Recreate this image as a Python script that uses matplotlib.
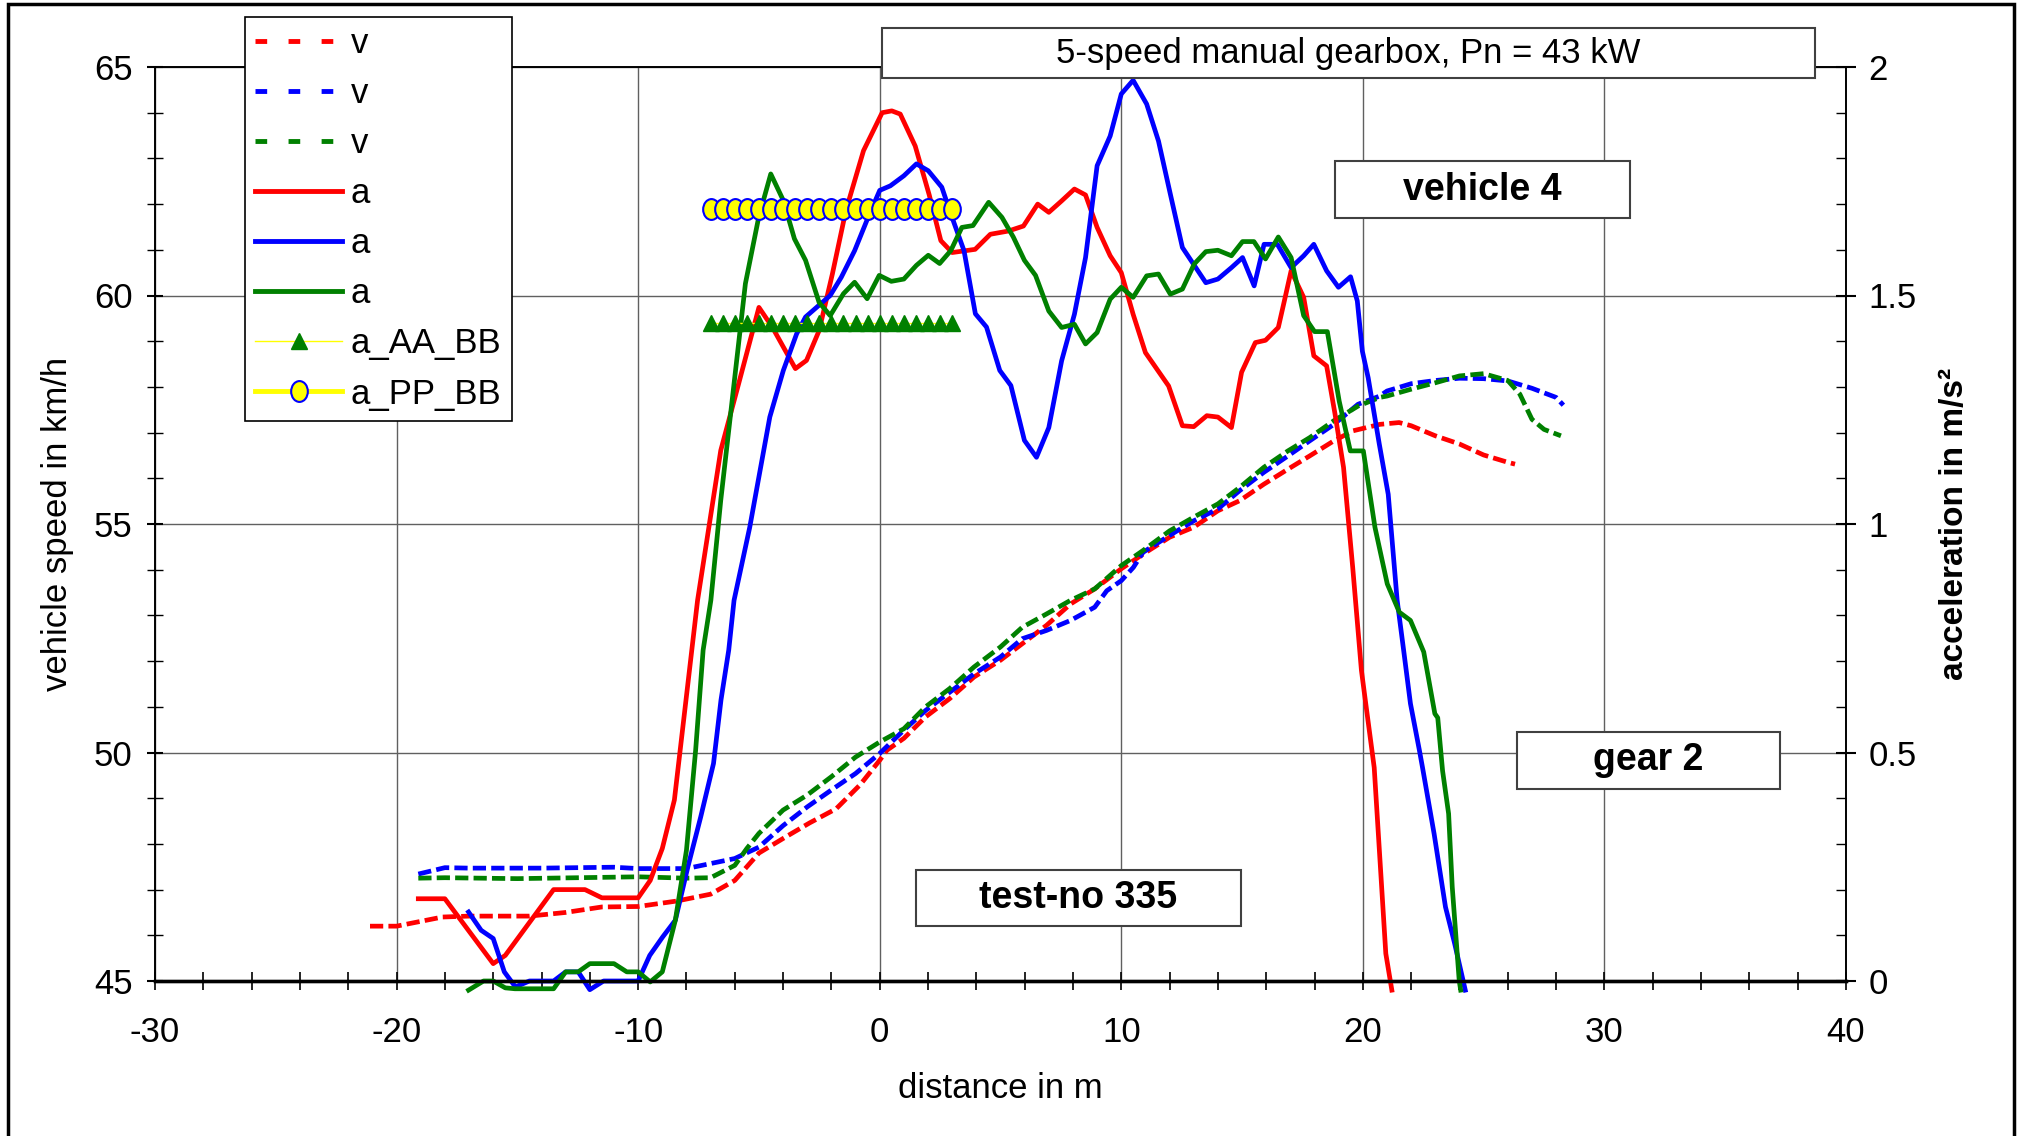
import matplotlib
matplotlib.use("Agg")
import matplotlib.pyplot as plt
from matplotlib.lines import Line2D
from matplotlib.patches import Rectangle
from matplotlib.path import Path
from matplotlib.transforms import Affine2D
from matplotlib.ticker import MultipleLocator, FuncFormatter

plt.rcParams['font.family'] = ['Liberation Sans', 'DejaVu Sans']
plt.rcParams['axes.unicode_minus'] = False

# vehicle speed (km/h) over distance (m)
x_v_red = [-21.1, -20, -18.1, -17, -14.5, -13, -11.5, -10, -8.4, -7, -6, -5, -3.9, -2.9, -1.8,
           -0.8, 0, 0.3, 1.0, 1.9, 2.9, 3.9, 5.0, 5.9, 6.9, 7.9, 8.9, 10, 10.9, 12, 13, 14, 14.9,
           15.9, 16.9, 17.8, 18.8, 19.6, 20.7, 21.5, 22, 23, 24, 25, 26, 26.3]
v_red = [46.2, 46.2, 46.4, 46.42, 46.42, 46.5, 46.62, 46.63, 46.75, 46.9, 47.2, 47.8, 48.15, 48.46,
         48.77, 49.3, 49.83, 50.05, 50.31, 50.78, 51.18, 51.65, 52.02, 52.38, 52.78, 53.25, 53.58,
         54.02, 54.34, 54.71, 54.93, 55.29, 55.51, 55.87, 56.2, 56.49, 56.82, 57.04, 57.18, 57.22,
         57.15, 56.93, 56.75, 56.51, 56.35, 56.31]

x_v_blue = [-19.1, -18, -17, -14, -11, -10, -8, -7, -6, -5, -4, -3, -2, -1, 0, 1.0, 1.9, 2.9, 3.9,
            5.0, 5.9, 6.9, 7.9, 8.9, 9.4, 10, 10.5, 10.9, 12, 13, 14, 14.9, 15.9, 16.9, 17.8, 18.8,
            19.8, 20.7, 21, 22, 23, 24, 25, 26, 27, 28, 28.3]
v_blue = [47.34, 47.48, 47.47, 47.47, 47.49, 47.46, 47.46, 47.57, 47.68, 47.93, 48.4, 48.81, 49.18,
          49.54, 49.98, 50.49, 50.92, 51.32, 51.72, 52.09, 52.49, 52.67, 52.89, 53.18, 53.54, 53.76,
          54.05, 54.38, 54.75, 55.07, 55.33, 55.73, 56.13, 56.49, 56.82, 57.18, 57.62, 57.8, 57.91,
          58.07, 58.14, 58.19, 58.18, 58.13, 57.97, 57.77, 57.6]

x_v_green = [-19.1, -18, -15, -10, -8, -7, -6, -5.5, -5, -4, -3, -2, -1, 0, 1.0, 1.9, 2.9, 3.9, 5.0,
             5.9, 6.9, 7.9, 8.9, 10, 10.9, 12, 13, 14, 14.9, 15.9, 16.9, 17.8, 18.8, 19.8, 20.7, 21,
             22, 23, 24, 25, 26, 26.5, 27, 27.5, 28.2]
v_green = [47.25, 47.26, 47.24, 47.28, 47.25, 47.26, 47.53, 47.9, 48.23, 48.74, 49.07, 49.47, 49.9,
           50.23, 50.52, 51.0, 51.4, 51.87, 52.31, 52.74, 53.03, 53.33, 53.58, 54.09, 54.42, 54.85,
           55.15, 55.44, 55.8, 56.24, 56.6, 56.89, 57.26, 57.58, 57.77, 57.8, 57.95, 58.09, 58.24,
           58.29, 58.14, 57.84, 57.29, 57.07, 56.93]

# acceleration (m/s²) over distance (m)
x_a_red = [-19.1, -18, -16, -15.5, -13.5, -12.2, -11.5, -10, -9.5, -9.0, -8.5, -7.54, -6.58, -5.84,
           -5.0, -4.45, -3.49, -3.03, -2.51, -1.96, -1.4, -0.67, 0.1, 0.5, 0.85, 1.47, 2.05, 2.53,
           3.0, 3.95, 4.58, 5.32, 5.95, 6.54, 7.0, 7.53, 8.06, 8.52, 9.0, 9.54, 10.0, 10.49, 11.0,
           11.96, 12.53, 13.0, 13.54, 14.0, 14.56, 14.98, 15.55, 15.97, 16.5, 16.75, 17.03, 17.55,
           17.97, 18.5, 18.85, 19.2, 19.58, 19.94, 20.1, 20.47, 20.95, 21.2]
a_red = [0.18, 0.18, 0.038, 0.056, 0.20, 0.20, 0.182, 0.182, 0.22, 0.29, 0.396, 0.833, 1.161, 1.307,
         1.474, 1.431, 1.34, 1.358, 1.423, 1.547, 1.686, 1.817, 1.90, 1.904, 1.897, 1.827, 1.72,
         1.62, 1.594, 1.601, 1.634, 1.641, 1.652, 1.70, 1.682, 1.707, 1.733, 1.72, 1.649, 1.587,
         1.55, 1.459, 1.375, 1.302, 1.215, 1.213, 1.237, 1.234, 1.211, 1.332, 1.397, 1.402, 1.43,
         1.488, 1.554, 1.496, 1.368, 1.346, 1.24, 1.124, 0.905, 0.68, 0.615, 0.467, 0.06, -0.02]

x_a_blue = [-17.02, -16.5, -16.0, -15.54, -15.08, -14.5, -13.5, -13.0, -12.48, -12.0, -11.43, -10.0,
            -9.52, -8.99, -8.46, -7.94, -7.41, -6.88, -6.57, -6.25, -6.03, -5.38, -4.55, -3.99,
            -3.44, -3.07, -2.05, -1.59, -1.04, -0.48, 0.0, 0.44, 1.0, 1.52, 2.01, 2.57, 2.94, 3.49,
            3.96, 4.42, 4.97, 5.43, 5.99, 6.49, 7.0, 7.53, 8.06, 8.52, 9.0, 9.54, 10.0, 10.49, 11.05,
            11.54, 12.03, 12.53, 13.5, 14.0, 14.56, 15.02, 15.5, 15.91, 16.46, 17.03, 17.55, 17.97,
            18.5, 18.99, 19.49, 19.77, 19.98, 20.22, 20.68, 21.05, 21.42, 21.69, 21.97, 22.34,
            22.47, 22.95, 23.42, 23.8, 24.24]
a_blue = [0.151, 0.111, 0.093, 0.02, -0.013, 0.0, 0.0, 0.02, 0.02, -0.019, 0.0, 0.0, 0.056, 0.096,
          0.133, 0.25, 0.359, 0.476, 0.615, 0.724, 0.833, 0.993, 1.234, 1.336, 1.416, 1.453, 1.50,
          1.54, 1.598, 1.671, 1.73, 1.74, 1.762, 1.788, 1.773, 1.737, 1.679, 1.598, 1.46, 1.431,
          1.336, 1.303, 1.183, 1.146, 1.211, 1.357, 1.459, 1.583, 1.784, 1.849, 1.941, 1.971, 1.919,
          1.838, 1.722, 1.605, 1.528, 1.536, 1.561, 1.583, 1.521, 1.612, 1.612, 1.561, 1.587, 1.612,
          1.554, 1.518, 1.541, 1.488, 1.378, 1.32, 1.175, 1.065, 0.833, 0.723, 0.607, 0.505, 0.467,
          0.322, 0.162, 0.082, -0.02]

x_a_green = [-17.02, -16.4, -16.0, -15.5, -15.1, -13.5, -13.0, -12.48, -12.0, -11.0, -10.47, -10.0,
             -9.5, -9.0, -8.46, -8.0, -7.62, -7.31, -6.99, -6.58, -6.03, -5.56, -5.01, -4.51, -3.99,
             -3.53, -3.07, -2.51, -2.05, -1.5, -1.04, -0.52, -0.02, 0.48, 1.0, 1.52, 2.01, 2.48,
             2.94, 3.4, 3.86, 4.51, 5.06, 5.53, 5.99, 6.45, 7.0, 7.53, 8.06, 8.52, 9.0, 9.54, 10.0,
             10.49, 11.05, 11.54, 12.03, 12.53, 13.02, 13.5, 14.0, 14.56, 15.02, 15.49, 15.97, 16.5,
             17.03, 17.55, 18.0, 18.53, 19.02, 19.48, 20.02, 20.5, 21.01, 21.51, 21.97, 22.52,
             22.98, 23.1, 23.3, 23.55, 23.7, 23.99, 24.05]
a_green = [-0.02, 0.0, 0.0, -0.015, -0.017, -0.017, 0.02, 0.02, 0.038, 0.038, 0.02, 0.02, -0.002,
           0.02, 0.133, 0.286, 0.505, 0.724, 0.833, 1.052, 1.307, 1.526, 1.671, 1.766, 1.708, 1.624,
           1.577, 1.485, 1.456, 1.504, 1.529, 1.493, 1.544, 1.531, 1.536, 1.566, 1.588, 1.57, 1.598,
           1.649, 1.653, 1.704, 1.671, 1.628, 1.577, 1.544, 1.466, 1.43, 1.437, 1.394, 1.419, 1.492,
           1.518, 1.496, 1.543, 1.547, 1.503, 1.514, 1.569, 1.596, 1.599, 1.587, 1.618, 1.618, 1.58,
           1.628, 1.583, 1.456, 1.421, 1.421, 1.269, 1.16, 1.16, 0.993, 0.869, 0.807, 0.789, 0.72,
           0.585, 0.576, 0.46, 0.366, 0.206, 0.0, -0.02]

# marker rows
x_marks = [-7.0, -6.5, -6.0, -5.5, -5.0, -4.5, -4.0, -3.5, -3.0, -2.5, -2.0, -1.5, -1.0, -0.5,
           0.0, 0.5, 1.0, 1.5, 2.0, 2.5, 3.0]
a_AA_BB = [1.44] * len(x_marks)
a_PP_BB = [1.69] * len(x_marks)

W, H = 2021, 1136
fig = plt.figure(figsize=(W / 100, H / 100), dpi=100)
ax = fig.add_axes([155 / W, 1 - 981 / H, (1846 - 155) / W, (981 - 67) / H])
ax2 = ax.twinx()

lw = 3.4
ax.plot(x_v_red, v_red, color='#ff0000', lw=lw, dashes=(2.8, 1.1))
ax.plot(x_v_blue, v_blue, color='#0000ff', lw=lw, dashes=(2.8, 1.1))
ax.plot(x_v_green, v_green, color='#008000', lw=lw, dashes=(2.8, 1.1))

ax2.plot(x_a_red, a_red, color='#ff0000', lw=lw, clip_on=False)
ax2.plot(x_a_blue, a_blue, color='#0000ff', lw=lw, clip_on=False)
ax2.plot(x_a_green, a_green, color='#008000', lw=lw, clip_on=False)

ellipse = Path.unit_circle().transformed(Affine2D().scale(0.8, 1.0))
ax2.plot(x_marks, a_AA_BB, color='#ffff00', lw=1, marker='^', ms=11,
         mfc='#008000', mec='#008000', zorder=5)
ax2.plot(x_marks, a_PP_BB, color='#ffff00', lw=3.5, marker=ellipse, ms=15,
         mfc='#ffff00', mec='#0000ff', mew=1.5, zorder=5)

ax.set_xlim(-30, 40)
ax.set_ylim(45, 65)
ax2.set_ylim(0, 2)

ax.xaxis.set_major_locator(MultipleLocator(10))
ax.xaxis.set_minor_locator(MultipleLocator(2))
ax.yaxis.set_major_locator(MultipleLocator(5))
ax.yaxis.set_minor_locator(MultipleLocator(1))
ax2.yaxis.set_major_locator(MultipleLocator(0.5))
ax2.yaxis.set_minor_locator(MultipleLocator(0.1))
ax2.yaxis.set_major_formatter(FuncFormatter(lambda v, p: f'{v:g}'))

ax.grid(True, which='major', color='#606060', lw=1.0)
ax.set_axisbelow(True)

ax.tick_params(axis='x', which='both', direction='inout', length=13, width=1.2,
               labelsize=25, pad=19)
ax.tick_params(axis='y', which='major', direction='inout', length=12, width=1.5,
               labelsize=25, pad=10)
ax.tick_params(axis='y', which='minor', direction='inout', length=11, width=1.0)
ax2.tick_params(axis='y', which='major', direction='inout', length=14, width=1.5,
                labelsize=25, pad=9)
ax2.tick_params(axis='y', which='minor', direction='in', length=7, width=1.0)

for s in ['left', 'right', 'top']:
    ax.spines[s].set_linewidth(1.2)
    ax2.spines[s].set_linewidth(1.2)
ax.spines['bottom'].set_linewidth(2.4)
ax2.spines['bottom'].set_linewidth(2.4)

fig.text(58 / W, 1 - 524 / H, 'vehicle speed in km/h', rotation=90, fontsize=25,
         ha='center', va='center')
fig.text(1955 / W, 1 - 524 / H, 'acceleration in m/s²', rotation=90, fontsize=24,
         fontweight='bold', ha='center', va='center')
fig.text(1000 / W, 1 - 1088 / H, 'distance in m', fontsize=25, ha='center', va='center')

# legend
dash_leg = (2.4, 4.4)
handles = [
    Line2D([], [], color='#ff0000', lw=3.5, dashes=dash_leg),
    Line2D([], [], color='#0000ff', lw=3.5, dashes=dash_leg),
    Line2D([], [], color='#008000', lw=3.5, dashes=dash_leg),
    Line2D([], [], color='#ff0000', lw=3.5),
    Line2D([], [], color='#0000ff', lw=3.5),
    Line2D([], [], color='#008000', lw=3.5),
    Line2D([], [], color='#ffff00', lw=1, marker='^', ms=11, mfc='#008000', mec='#008000'),
    Line2D([], [], color='#ffff00', lw=3.5, marker=ellipse, ms=15, mfc='#ffff00',
           mec='#0000ff', mew=1.5),
]
labels = ['v', 'v', 'v', 'a', 'a', 'a', 'a_AA_BB', 'a_PP_BB']
leg = ax2.legend(handles, labels, loc='upper left', bbox_to_anchor=(245 / W, 1 - 17 / H),
                 bbox_transform=fig.transFigure, borderaxespad=0, fontsize=25,
                 handlelength=2.5, handletextpad=0.25, labelspacing=0.49, borderpad=0.3,
                 fancybox=False, framealpha=1, edgecolor='black', numpoints=1)
leg.get_frame().set_linewidth(1.2)
leg.set_zorder(20)

# annotation boxes
def box(x0, y0, x1, y1, text, weight, size):
    fig.patches.append(Rectangle((x0 / W, 1 - y1 / H), (x1 - x0) / W, (y1 - y0) / H,
                                 transform=fig.transFigure, facecolor='white',
                                 edgecolor='#404040', lw=1.5, zorder=3))
    fig.text((x0 + x1) / 2 / W, 1 - (y0 + y1) / 2 / H, text, fontsize=size,
             fontweight=weight, ha='center', va='center', zorder=4)

box(882, 28, 1815, 78, '5-speed manual gearbox, Pn = 43 kW', 'normal', 25)
box(1335, 161, 1630, 218, 'vehicle 4', 'bold', 27)
box(1517, 732, 1780, 789, 'gear 2', 'bold', 27)
box(916, 870, 1241, 926, 'test-no 335', 'bold', 27)

# outer frame
fig.patches.append(Rectangle((8 / W, -0.01), (2014 - 8) / W, 1 - 4 / H + 0.01,
                             transform=fig.transFigure, fill=False, edgecolor='black',
                             lw=2.5, zorder=10))

fig.savefig('out.png', dpi=100)
